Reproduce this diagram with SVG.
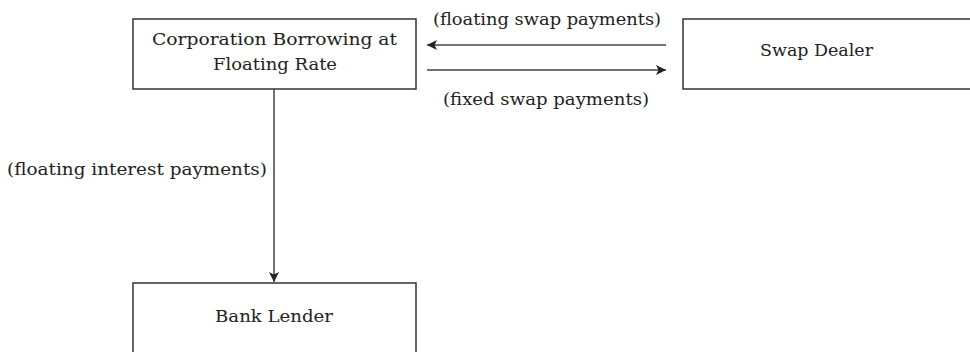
<svg xmlns="http://www.w3.org/2000/svg" width="970" height="352" viewBox="0 0 970 352">
<style>
.box{fill:#fff;stroke:#333;stroke-width:1.5}
.t{font-family:"DejaVu Serif","Liberation Serif",serif;font-size:17px;fill:#222}
.c{stroke:#444;stroke-width:1.5;fill:none}
</style>
<defs>
<marker id="ah" viewBox="0 0 10 10" refX="10" refY="5" markerWidth="11" markerHeight="10" markerUnits="userSpaceOnUse" orient="auto">
<path d="M0,0 L10,5 L0,10 L2.5,5 Z" fill="#222"/>
</marker>
</defs>
<rect width="970" height="352" fill="#fff"/>
<g id="corp">
<rect class="box" x="133" y="19" width="283" height="70"/>
<text class="t" x="152" y="45" textLength="245" lengthAdjust="spacingAndGlyphs">Corporation Borrowing at</text>
<text class="t" x="213" y="70" textLength="124" lengthAdjust="spacingAndGlyphs">Floating Rate</text>
</g>
<g id="dealer">
<rect class="box" x="683" y="19" width="300" height="70"/>
<text class="t" x="760" y="56" textLength="113" lengthAdjust="spacingAndGlyphs">Swap Dealer</text>
</g>
<g id="bank">
<rect class="box" x="133" y="283" width="283" height="80"/>
<text class="t" x="215" y="322" textLength="118" lengthAdjust="spacingAndGlyphs">Bank Lender</text>
</g>
<g id="connectors">
<line class="c" x1="666" y1="45" x2="427" y2="45" marker-end="url(#ah)"/>
<line class="c" x1="427" y1="70" x2="666" y2="70" marker-end="url(#ah)"/>
<line class="c" x1="274" y1="89" x2="274" y2="282" marker-end="url(#ah)"/>
</g>
<g id="labels">
<text class="t" x="433" y="25" textLength="228" lengthAdjust="spacingAndGlyphs">(floating swap payments)</text>
<text class="t" x="443" y="105" textLength="206" lengthAdjust="spacingAndGlyphs">(fixed swap payments)</text>
<text class="t" x="7" y="175" textLength="260" lengthAdjust="spacingAndGlyphs">(floating interest payments)</text>
</g>
</svg>
